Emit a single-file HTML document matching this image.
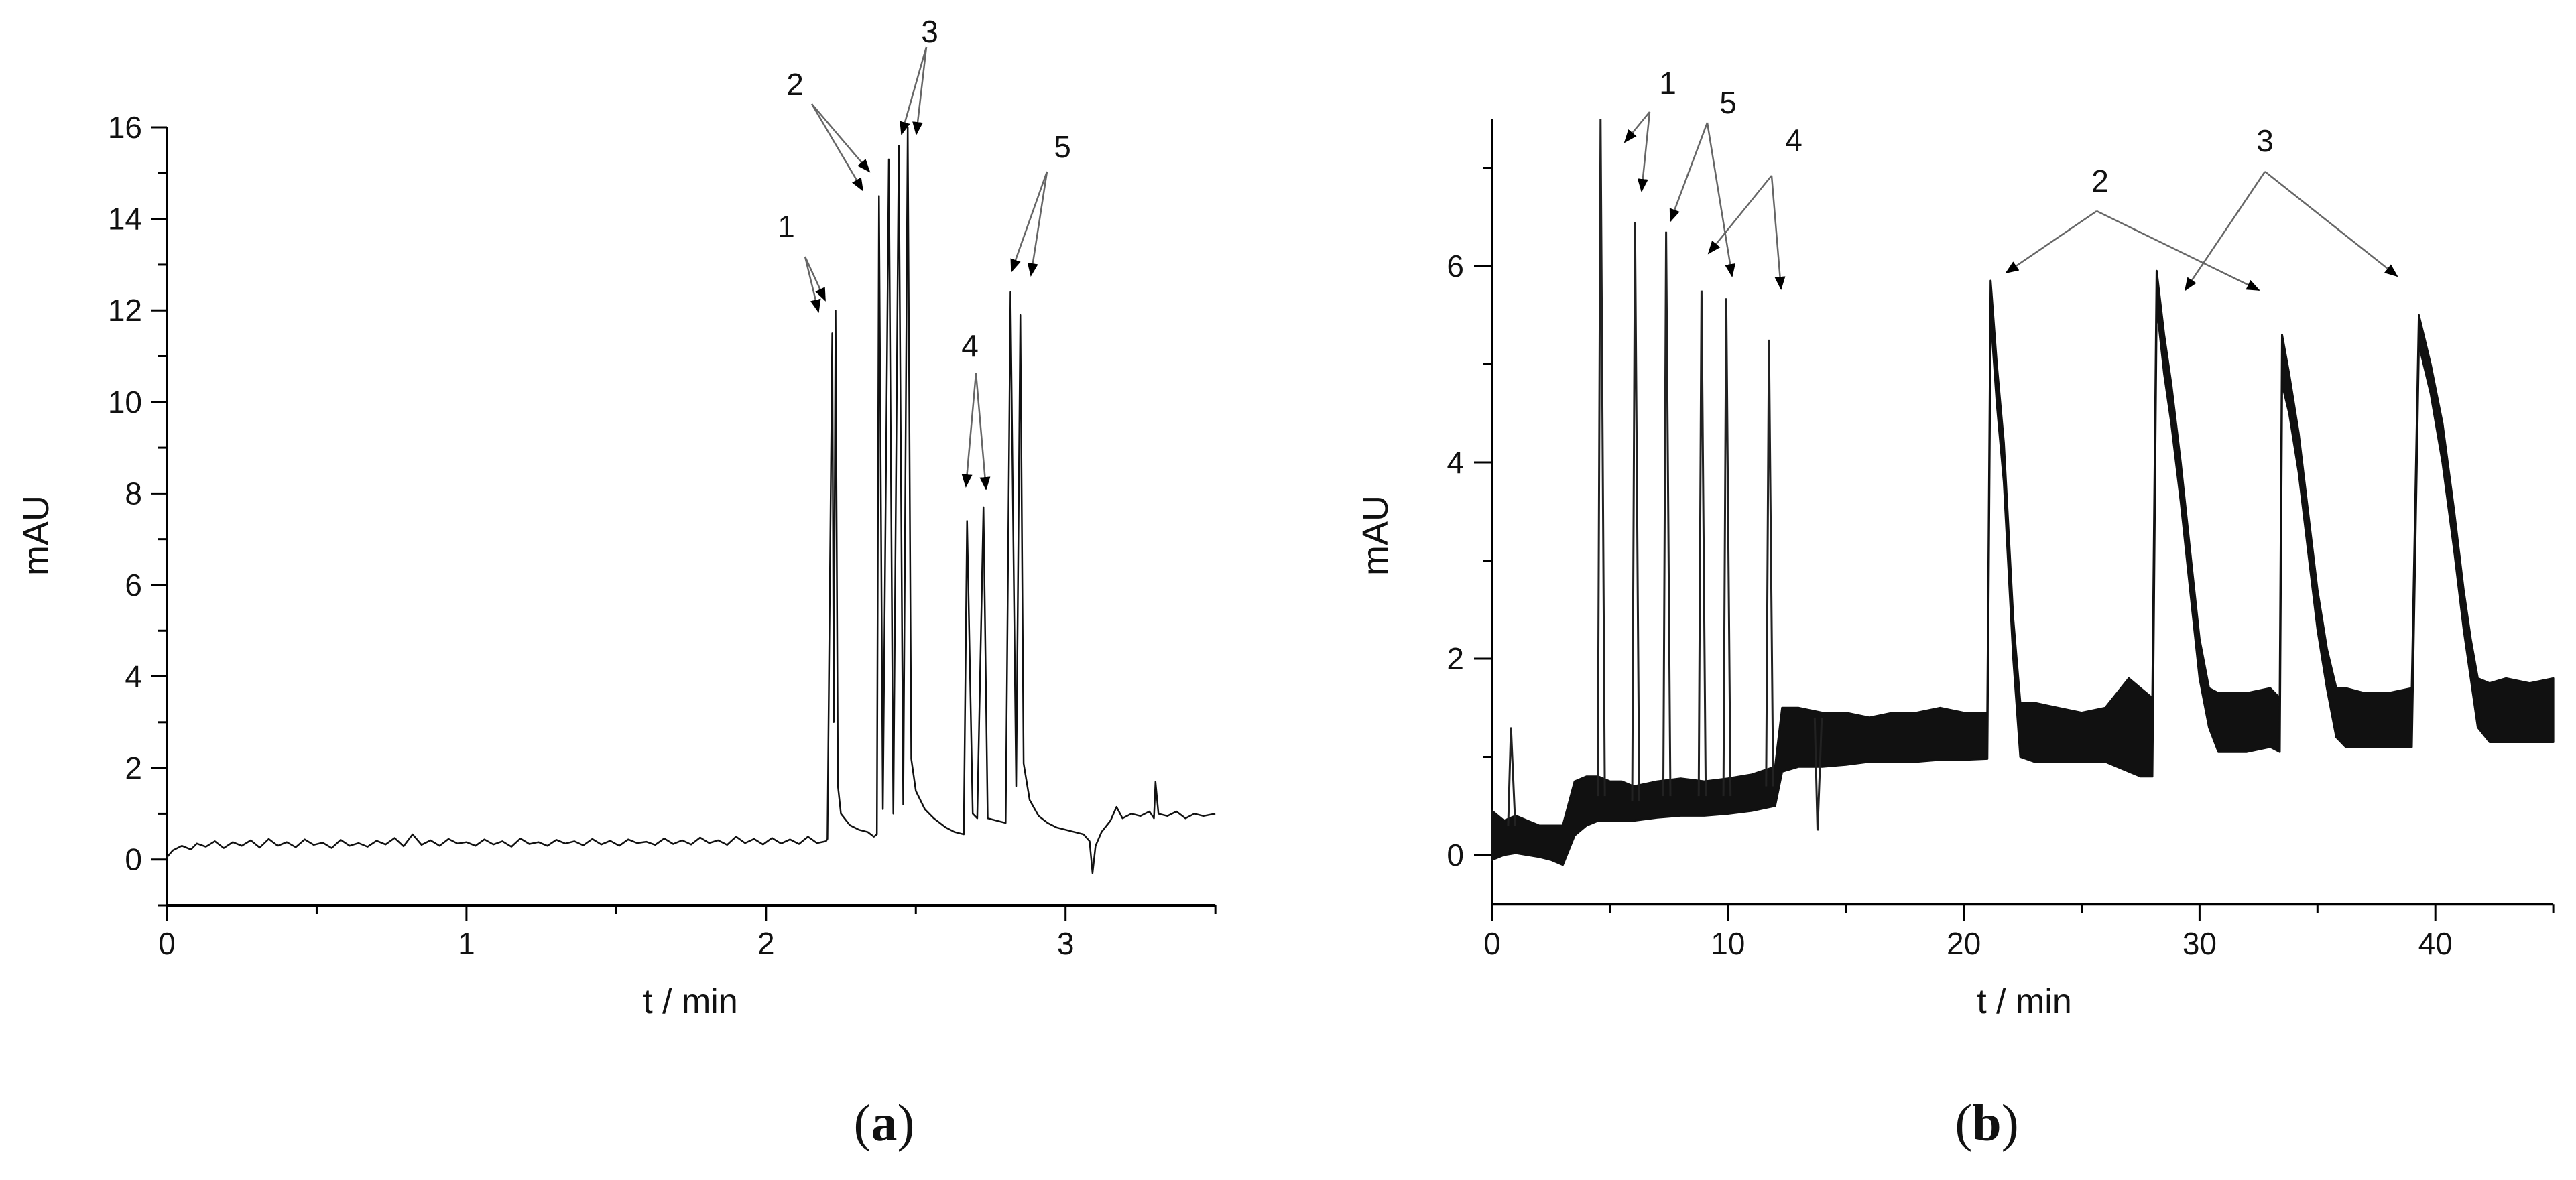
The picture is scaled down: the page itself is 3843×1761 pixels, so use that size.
<!DOCTYPE html>
<html><head><meta charset="utf-8"><style>
html,body{margin:0;padding:0;background:#fff;}
svg{display:block;}
text{font-family:"Liberation Sans",sans-serif;fill:#111;}
</style></head><body>
<svg id="fig" width="3843" height="1761" viewBox="0 0 3843 1761" xmlns="http://www.w3.org/2000/svg">
<defs>
<marker id="ah" viewBox="0 0 10 10" refX="9" refY="5" markerWidth="9" markerHeight="9" markerUnits="userSpaceOnUse" orient="auto"><path d="M0,0 L10,5 L0,10 z" fill="#000"/></marker>
<marker id="ahb" viewBox="0 0 10 10" refX="9" refY="5" markerWidth="20" markerHeight="20" markerUnits="userSpaceOnUse" orient="auto"><path d="M0,1 L10,5 L0,9 z" fill="#000"/></marker>
</defs>
<g id="panelA"></g>
<g id="panelB"></g>
<text x="1319" y="1702" text-anchor="middle" style="font-family:'Liberation Serif',serif;font-size:78px">(<tspan font-weight="bold">a</tspan>)</text>
<text x="2964" y="1702" text-anchor="middle" style="font-family:'Liberation Serif',serif;font-size:78px">(<tspan font-weight="bold">b</tspan>)</text>
</svg>
<script>
// ---------- Panel A data ----------
const aTimes = [0,0.02,0.05,0.08,0.1,0.13,0.16,0.19,0.22,0.25,0.28,0.31,0.34,0.37,0.4,0.43,0.46,0.49,0.52,0.55,0.58,0.61,0.64,0.67,0.7,0.73,0.76,0.79,0.82,0.85,0.88,0.91,0.94,0.97,1.0,1.03,1.06,1.09,1.12,1.15,1.18,1.21,1.24,1.27,1.3,1.33,1.36,1.39,1.42,1.45,1.48,1.51,1.54,1.57,1.6,1.63,1.66,1.69,1.72,1.75,1.78,1.81,1.84,1.87,1.9,1.93,1.96,1.99,2.02,2.05,2.08,2.11,2.14,2.17,2.2,2.205,2.221,2.226,2.232,2.24,2.25,2.28,2.31,2.34,2.36,2.37,2.377,2.39,2.41,2.425,2.443,2.458,2.473,2.485,2.5,2.53,2.56,2.6,2.63,2.66,2.671,2.69,2.705,2.726,2.74,2.77,2.8,2.816,2.835,2.849,2.86,2.88,2.91,2.94,2.97,3.0,3.03,3.06,3.08,3.09,3.1,3.12,3.15,3.17,3.19,3.22,3.25,3.28,3.295,3.3,3.31,3.34,3.37,3.4,3.43,3.46,3.5];
const aValues = [0.05,0.2,0.3,0.22,0.35,0.28,0.4,0.25,0.38,0.3,0.42,0.26,0.45,0.3,0.38,0.27,0.44,0.32,0.37,0.25,0.43,0.3,0.36,0.28,0.41,0.33,0.47,0.29,0.55,0.32,0.42,0.3,0.45,0.35,0.38,0.3,0.44,0.33,0.4,0.28,0.46,0.34,0.38,0.3,0.43,0.35,0.4,0.31,0.45,0.33,0.41,0.3,0.44,0.36,0.39,0.32,0.46,0.34,0.42,0.33,0.48,0.36,0.42,0.32,0.5,0.36,0.45,0.33,0.47,0.35,0.44,0.34,0.5,0.36,0.4,0.45,11.5,3.0,12.0,1.6,1.0,0.75,0.65,0.6,0.5,0.55,14.5,1.1,15.3,1.0,15.6,1.2,16.0,2.2,1.5,1.1,0.9,0.7,0.6,0.55,7.4,1.0,0.9,7.7,0.9,0.85,0.8,12.4,1.6,11.9,2.1,1.3,0.95,0.8,0.7,0.65,0.6,0.55,0.4,-0.3,0.3,0.6,0.85,1.15,0.9,1.0,0.95,1.05,0.9,1.7,1.0,0.95,1.05,0.9,1.0,0.95,1.0,0.95];
const aXTicks = [0,1,2,3];
const aYTicks = [0,2,4,6,8,10,12,14,16];
// ---------- Panel B data ----------
const bBandTimes = [0,0.5,1,1.5,2,2.5,3,3.5,4,4.5,5,5.5,6,7,8,9,10,11,12,12.3,13,14,15,16,17,18,19,20,21,21.14,21.4,21.7,22.1,22.4,23,24,25,26,27,27.5,28,28.18,28.5,28.8,29.2,29.6,30,30.4,30.8,31.5,32,33,33.4,33.5,33.8,34.2,34.6,35,35.4,35.8,36.2,37,38,39,39.3,39.8,40.3,40.8,41.2,41.5,41.8,42.3,43,44,45];
const bLow = [-0.05,0,0.02,0,-0.02,-0.05,-0.1,0.2,0.3,0.35,0.35,0.35,0.35,0.38,0.4,0.4,0.42,0.45,0.5,0.85,0.9,0.9,0.92,0.95,0.95,0.95,0.97,0.97,0.98,5.5,4.6,3.8,2.0,1.0,0.95,0.95,0.95,0.95,0.85,0.8,0.8,5.6,4.9,4.4,3.6,2.7,1.8,1.3,1.05,1.05,1.05,1.1,1.05,4.8,4.5,3.9,3.1,2.3,1.7,1.2,1.1,1.1,1.1,1.1,5.2,4.7,4.0,3.1,2.3,1.8,1.3,1.15,1.15,1.15,1.15];
const bHigh = [0.45,0.35,0.4,0.35,0.3,0.3,0.3,0.75,0.8,0.8,0.75,0.75,0.7,0.75,0.78,0.75,0.78,0.82,0.9,1.5,1.5,1.45,1.45,1.4,1.45,1.45,1.5,1.45,1.45,5.85,5.0,4.2,2.4,1.55,1.55,1.5,1.45,1.5,1.8,1.7,1.6,5.95,5.3,4.8,4.0,3.1,2.2,1.7,1.65,1.65,1.65,1.7,1.6,5.3,4.9,4.3,3.5,2.7,2.1,1.7,1.7,1.65,1.65,1.7,5.5,5.0,4.4,3.5,2.7,2.2,1.8,1.75,1.8,1.75,1.8];
const bPeakTimes = [0.8,4.6,6.06,7.38,8.88,9.93,11.74,13.8];
const bPeakHeights = [1.3,7.5,6.45,6.35,5.75,5.67,5.25,0.25];
const bPeakBase = [0.3,0.6,0.55,0.6,0.6,0.6,0.7,1.4];
const bXTicks = [0,10,20,30,40];
const bYTicks = [0,2,4,6];

// ---------- Axis functions ----------
const ax = {x0:249, sx:446.9, y0:1282.7, sy:68.29};
const axX = t => ax.x0 + t*ax.sx;
const axY = v => ax.y0 - v*ax.sy;
const bx = {x0:2226, sx:35.18, y0:1276, sy:146.5};
const bxX = t => bx.x0 + t*bx.sx;
const bxY = v => bx.y0 - v*bx.sy;

const NS = "http://www.w3.org/2000/svg";
function el(tag, attrs, parent){
  const e = document.createElementNS(NS, tag);
  for (const k in attrs) e.setAttribute(k, attrs[k]);
  parent.appendChild(e);
  return e;
}
const gA = document.getElementById('panelA');
const gB = document.getElementById('panelB');

// ---------- Panel A axes ----------
let e;
e = el('line',{x1:axX(0),y1:axY(16),x2:axX(0),y2:axY(-1),stroke:'#000','stroke-width':4},gA);


e = el('line',{x1:axX(0)-2,y1:axY(-1),x2:axX(3.5),y2:axY(-1),stroke:'#000','stroke-width':4},gA);


for (let v=-1; v<=16; v++){
  const major = v%2===0 && v>=0;
  e = el('line',{x1:axX(0)-(major?24:13),y1:axY(v),x2:axX(0),y2:axY(v),stroke:'#000','stroke-width':3},gA);
  
  
}
aYTicks.forEach(v=>{
  e = el('text',{x:axX(0)-37,y:axY(v)+16,'text-anchor':'end','font-size':46},gA);
  e.textContent = v;
  
  
});
for (let t=0; t<=3.5001; t+=0.5){
  const major = Math.abs(t-Math.round(t))<1e-6;
  e = el('line',{x1:axX(t),y1:axY(-1),x2:axX(t),y2:axY(-1)+(major?24:13),stroke:'#000','stroke-width':3},gA);
  
  
}
aXTicks.forEach(t=>{
  e = el('text',{x:axX(t),y:1424,'text-anchor':'middle','font-size':46},gA);
  e.textContent = t;
  
  
});
e = el('text',{x:1030,y:1512,'text-anchor':'middle','font-size':52},gA);
e.textContent = 't / min';


e = el('text',{x:72,y:799,'text-anchor':'middle','font-size':54,transform:'rotate(-90 72 799)'},gA);
e.textContent = 'mAU';



// Panel A trace
e = el('polyline',{points:aTimes.map((t,i)=>axX(t).toFixed(1)+','+axY(aValues[i]).toFixed(1)).join(' '),fill:'none',stroke:'#111','stroke-width':2.5,'stroke-linejoin':'round'},gA);



// ---------- Panel B axes ----------
e = el('line',{x1:bxX(0),y1:bxY(7.5),x2:bxX(0),y2:bxY(-0.5),stroke:'#000','stroke-width':4},gB);


e = el('line',{x1:bxX(0)-2,y1:bxY(-0.5),x2:bxX(45),y2:bxY(-0.5),stroke:'#000','stroke-width':4},gB);


for (let v=0; v<=7; v++){
  const major = v%2===0;
  e = el('line',{x1:bxX(0)-(major?27:14),y1:bxY(v),x2:bxX(0),y2:bxY(v),stroke:'#000','stroke-width':3},gB);
  
  
}
bYTicks.forEach(v=>{
  e = el('text',{x:bxX(0)-42,y:bxY(v)+16,'text-anchor':'end','font-size':46},gB);
  e.textContent = v;
  
  
});
for (let t=0; t<=45; t+=5){
  const major = t%10===0;
  e = el('line',{x1:bxX(t),y1:bxY(-0.5),x2:bxX(t),y2:bxY(-0.5)+(major?25:13),stroke:'#000','stroke-width':3},gB);
  
  
}
bXTicks.forEach(t=>{
  e = el('text',{x:bxX(t),y:1424,'text-anchor':'middle','font-size':46},gB);
  e.textContent = t;
  
  
});
e = el('text',{x:3020,y:1512,'text-anchor':'middle','font-size':52},gB);
e.textContent = 't / min';


e = el('text',{x:2070,y:799,'text-anchor':'middle','font-size':54,transform:'rotate(-90 2070 799)'},gB);
e.textContent = 'mAU';



// Panel B noisy band
const up = bBandTimes.map((t,i)=>bxX(t).toFixed(1)+','+bxY(bHigh[i]).toFixed(1));
const dn = bBandTimes.map((t,i)=>bxX(t).toFixed(1)+','+bxY(bLow[i]).toFixed(1)).reverse();
e = el('polygon',{points:up.concat(dn).join(' '),fill:'#111',stroke:'#111','stroke-width':3,'stroke-linejoin':'round'},gB);


bPeakTimes.forEach((t,i)=>{
  const pts = [[t-0.12,bPeakBase[i]],[t,bPeakHeights[i]],[t+0.18,bPeakBase[i]]];
  e = el('polyline',{points:pts.map(p=>bxX(p[0]).toFixed(1)+','+bxY(p[1]).toFixed(1)).join(' '),fill:'none',stroke:'#222','stroke-width':3},gB);
  
  
});

// ---------- Annotations ----------
const fig = document.getElementById('fig');
function annot(label, lx, ly, sx, sy, ends, prefix){
  const g = el('g',{},fig);
  
  
  const t = el('text',{x:lx,y:ly+16,'text-anchor':'middle','font-size':46},g);
  t.textContent = label;
  ends.forEach(p=>{
    const l = el('line',{x1:sx,y1:sy,x2:p[0],y2:p[1],stroke:'#666','stroke-width':2.5,'marker-end':'url(#ahb)'},g);
    
    
  });
}
annot('1',1173,338,1201,383,[[1231,448],[1221,465]],'a');
annot('2',1186,126,1211,155,[[1297,256],[1287,284]],'a');
annot('3',1387,47,1382,70,[[1345,200],[1367,200]],'a');
annot('4',1447,516,1456,557,[[1441,726],[1471,730]],'a');
annot('5',1585,219,1562,256,[[1509,405],[1538,411]],'a');
annot('1',2488,124,2461,167,[[2424,212],[2449,285]],'b');
annot('5',2578,153,2547,183,[[2492,330],[2584,412]],'b');
annot('4',2676,209,2643,262,[[2549,378],[2657,431]],'b');
annot('2',3133,270,3128,315,[[2993,407],[3370,433]],'b');
annot('3',3379,210,3379,256,[[3260,433],[3576,412]],'b');
</script>
</body></html>
